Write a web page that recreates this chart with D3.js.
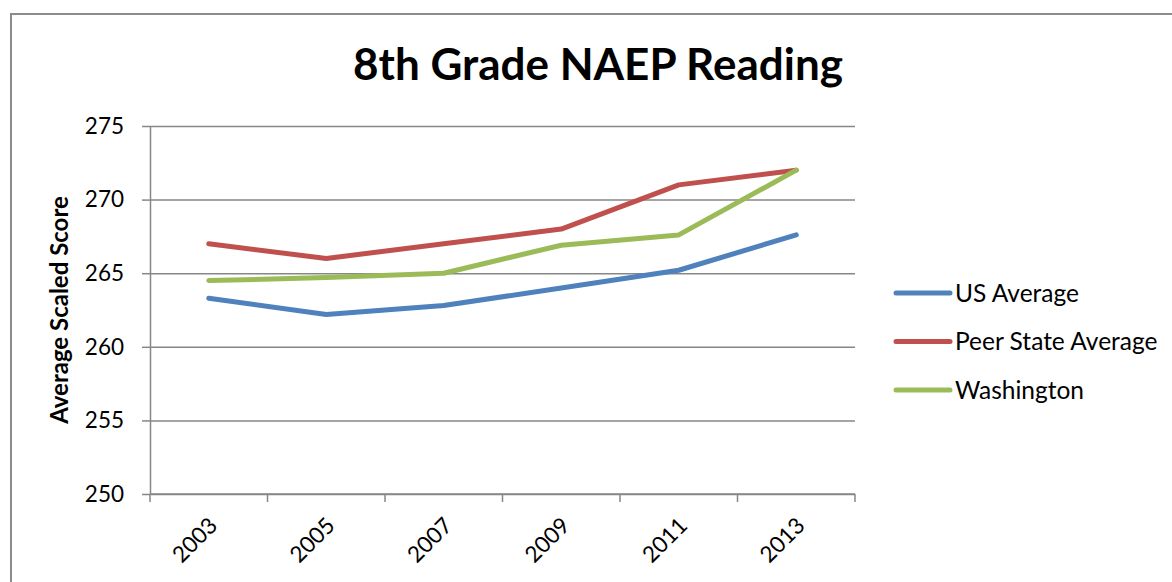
<!DOCTYPE html>
<html>
<head>
<meta charset="utf-8">
<script src="https://cdn.jsdelivr.net/npm/d3@7"></script>
<style>
  body { margin: 0; background: #fff; }
  svg { display: block; font-family: Lato, "Noto Sans", sans-serif; }
</style>
</head>
<body>
<div id="chart"></div>
<script>
// 8th grade NAEP reading, average scaled scores
const years = ["2003", "2005", "2007", "2009", "2011", "2013"]
const usAverage = [263.3, 262.2, 262.8, 264.0, 265.2, 267.6]
const peerAverage = [267.0, 266.0, 267.0, 268.0, 271.0, 272.0]
const washington = [264.5, 264.7, 265.0, 266.9, 267.6, 272.0]
const yTicks = [250, 255, 260, 265, 270, 275]

const series = [
  { name: "US Average", values: usAverage, color: "#4f81bd" },
  { name: "Peer State Average", values: peerAverage, color: "#c0504d" },
  { name: "Washington", values: washington, color: "#9bbb59" }
]

const W = 1172, H = 582
const margin = { left: 150, right: 317, top: 126, bottom: 88 }

const svg = d3.select("#chart")
  .append("svg")
    .attr("width", W)
    .attr("height", H)

// outer chart border (runs off the page on right and bottom)
svg.append("rect")
  .attr("x", 11)
  .attr("y", 14)
  .attr("width", 1200)
  .attr("height", 600)
  .attr("fill", "none")
  .attr("stroke", "#8c8c8c")
  .attr("stroke-width", 2)

const x = d3.scaleBand()
  .domain(years)
  .range([margin.left, W - margin.right])

const y = d3.scaleLinear()
  .domain([250, 275])
  .range([H - margin.bottom, margin.top])

const grey = "#878787"

// gridlines
svg.append("g")
  .attr("transform", `translate(${margin.left},0)`)
  .call(d3.axisLeft(y).tickValues(yTicks).tickSize(-(W - margin.right - margin.left)).tickFormat(""))
  .call(g => g.select(".domain").remove())
  .call(g => g.selectAll("line").attr("stroke", grey).attr("stroke-width", 1.5))

// y axis with outside ticks
const yAxis = svg.append("g")
  .attr("transform", `translate(${margin.left},0)`)
  .call(d3.axisLeft(y).tickValues(yTicks).tickSize(8).tickSizeOuter(0).tickPadding(18))
yAxis.select(".domain").attr("stroke", grey).attr("stroke-width", 1.5)
yAxis.selectAll("line").attr("stroke", grey).attr("stroke-width", 1.5)
yAxis.selectAll("text")
  .attr("font-size", 22.5)
  .attr("font-family", "Lato, sans-serif")
  .attr("fill", "#000")

// x axis: ticks sit on category boundaries
const xBase = y(250)
const bounds = years.map(d => x(d)).concat([x(years[years.length - 1]) + x.bandwidth()])
svg.append("line")
  .attr("x1", margin.left)
  .attr("x2", W - margin.right)
  .attr("y1", xBase)
  .attr("y2", xBase)
  .attr("stroke", grey)
  .attr("stroke-width", 1.5)
svg.selectAll(".xtick")
  .data(bounds)
  .enter()
  .append("line")
    .attr("class", "xtick")
    .attr("x1", d => d)
    .attr("x2", d => d)
    .attr("y1", xBase)
    .attr("y2", xBase + 8)
    .attr("stroke", grey)
    .attr("stroke-width", 1.5)

svg.selectAll(".xlabel")
  .data(years)
  .enter()
  .append("text")
    .attr("class", "xlabel")
    .attr("text-anchor", "end")
    .attr("font-size", 22.5)
    .attr("transform", d => `translate(${x(d) + x.bandwidth() / 2 + 10},${xBase + 33}) rotate(-45)`)
    .text(d => d)

// lines
const line = d3.line()
  .x((d, i) => x(years[i]) + x.bandwidth() / 2)
  .y(d => y(d))

svg.selectAll(".series")
  .data(series)
  .enter()
  .append("path")
    .attr("class", "series")
    .attr("d", d => line(d.values))
    .attr("fill", "none")
    .attr("stroke", d => d.color)
    .attr("stroke-width", 5)
    .attr("stroke-linecap", "round")
    .attr("stroke-linejoin", "round")

// title
svg.append("text")
  .attr("x", 598)
  .attr("y", 80)
  .attr("text-anchor", "middle")
  .attr("font-size", 44)
  .attr("font-weight", "bold")
  .text("8th Grade NAEP Reading")

// y axis title
svg.append("text")
  .attr("transform", `translate(68,${(y(250) + y(275)) / 2}) rotate(-90)`)
  .attr("text-anchor", "middle")
  .attr("font-size", 24)
  .attr("font-weight", "bold")
  .text("Average Scaled Score")

// legend
const legend = svg.selectAll(".legend")
  .data(series)
  .enter()
  .append("g")
    .attr("class", "legend")
    .attr("transform", (d, i) => `translate(896,${293 + i * 48.5})`)

legend.append("line")
  .attr("x1", 0)
  .attr("x2", 54)
  .attr("stroke", d => d.color)
  .attr("stroke-width", 5)
  .attr("stroke-linecap", "round")

legend.append("text")
  .attr("x", 59)
  .attr("dy", "0.35em")
  .attr("font-size", 24.5)
  .text(d => d.name)
</script>
</body>
</html>
